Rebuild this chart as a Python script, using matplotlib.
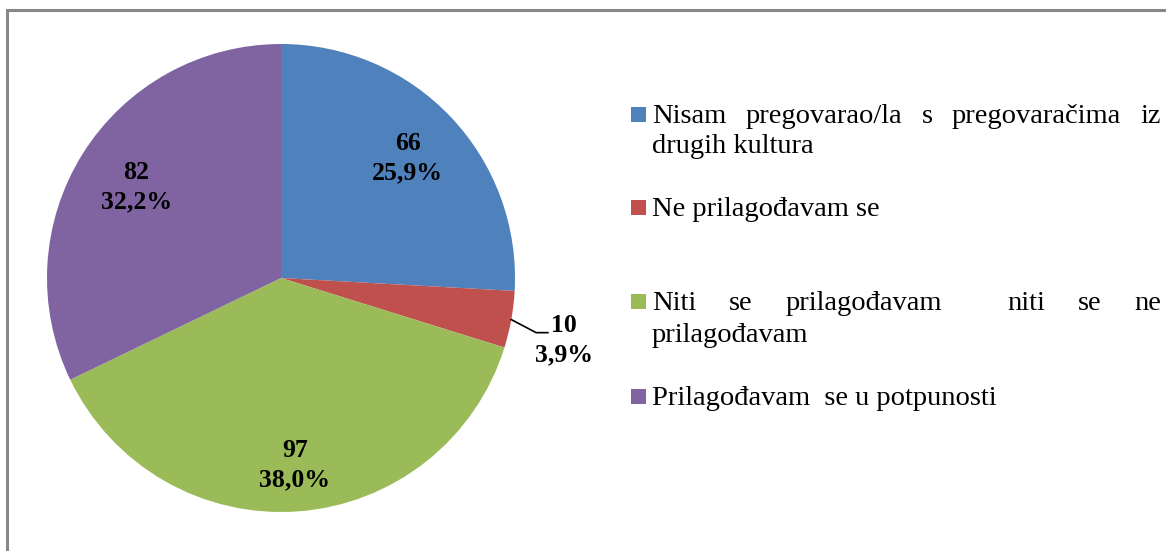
import numpy as np
import matplotlib
matplotlib.use("Agg")
import matplotlib.pyplot as plt
from matplotlib.patches import Rectangle

# data
labels = ["Nisam pregovarao/la s pregovaračima iz drugih kultura",
          "Ne prilagođavam se",
          "Niti se prilagođavam  niti se ne prilagođavam",
          "Prilagođavam  se u potpunosti"]
counts = [66, 10, 97, 82]
pct_text = ["25,9%", "3,9%", "38,0%", "32,2%"]
colors = ["#4F81BD", "#C0504D", "#9BBB59", "#8064A2"]

# legend lines as they wrap in the picture:
# (series index or None for a continuation line, words, gap weights for justified lines, baseline px)
legend_lines = [
    (0, ["Nisam", "pregovarao/la", "s", "pregovaračima", "iz"], [1, 1, 1, 1], 123),
    (None, ["drugih kultura"], None, 153),
    (1, ["Ne prilagođavam se"], None, 216),
    (2, ["Niti", "se", "prilagođavam", "niti", "se", "ne"], [1, 1, 2, 1, 1], 310),
    (None, ["prilagođavam"], None, 342),
    (3, ["Prilagođavam  se u potpunosti"], None, 405),
]

W, H = 1166, 551
plt.rcParams['font.family'] = ['Liberation Serif', 'DejaVu Serif']

fig = plt.figure(figsize=(W / 100, H / 100), dpi=100)

def fx(x):
    return x / W

def fy(y):
    return 1 - y / H

# outer frame (cut off at right and bottom)
fig.patches.append(Rectangle((fx(6.5), -0.05), 1.1, fy(10) + 0.05, transform=fig.transFigure,
                             fill=False, edgecolor="#888888", linewidth=2.2, clip_on=False))

# pie axes: center (281, 278), radius 234 px
cx, cy, r = 281, 278, 234
ax = fig.add_axes([fx(cx - r), fy(cy + r), 2 * r / W, 2 * r / H])
wedges, _ = ax.pie(counts, colors=colors, startangle=90, counterclock=False,
                   wedgeprops=dict(linewidth=0))
ax.set_xlim(-1, 1)
ax.set_ylim(-1, 1)
ax.set_aspect("auto")

label_r = [0.745, None, 0.80, 0.73]
for i, w in enumerate(wedges):
    mid = np.deg2rad((w.theta1 + w.theta2) / 2)
    txt = f"{counts[i]}\n{pct_text[i]}"
    if label_r[i] is not None:
        ax.text(label_r[i] * np.cos(mid), label_r[i] * np.sin(mid), txt,
                ha="center", va="center", fontsize=18.5, fontweight="bold",
                linespacing=1.35)
    else:
        ex, ey = np.cos(mid), np.sin(mid)
        tx, ty = 1.23 * np.cos(mid), 1.23 * np.sin(mid) - 0.045
        ax.plot([ex, tx - 0.12, tx - 0.07], [ey, ty + 0.03, ty + 0.03],
                color="black", linewidth=1.2, clip_on=False)
        ax.text(tx, ty, txt, ha="center", va="center", fontsize=18.5,
                fontweight="bold", linespacing=1.35, clip_on=False)

# legend, drawn by hand to keep the justified look
renderer = fig.canvas.get_renderer()
left, right = 652, 1161
fs = 20.5
for idx, words, gaps, base in legend_lines:
    if idx is not None:
        fig.patches.append(Rectangle((fx(631), fy(base - 1)), 15 / W, 15 / H,
                                     transform=fig.transFigure, facecolor=colors[idx],
                                     edgecolor="none"))
    if gaps is None:
        fig.text(fx(left), fy(base), words[0], fontsize=fs, va="baseline", ha="left")
        continue
    texts = [fig.text(0, fy(base), wd, fontsize=fs, va="baseline", ha="left") for wd in words]
    widths = [t.get_window_extent(renderer).width for t in texts]
    unit = (right - left - sum(widths)) / sum(gaps)
    x = left
    for k, t in enumerate(texts):
        t.set_x(fx(x))
        x += widths[k]
        if k < len(gaps):
            x += gaps[k] * unit

fig.savefig("out.png", dpi=100)
